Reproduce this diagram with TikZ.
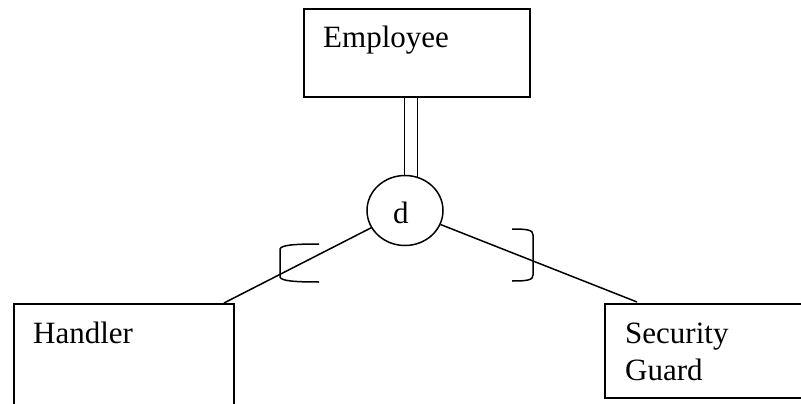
\documentclass[tikz,border=0pt]{standalone}
\usepackage{fontspec}
\setmainfont{Liberation Serif}
\usetikzlibrary{shapes.geometric}
\begin{document}
\begin{tikzpicture}[x=1pt,y=-1pt,
  entity/.style={draw, rectangle, line width=2pt, inner sep=0pt, anchor=north west},
  link/.style={line width=1.5pt},
  lbl/.style={inner sep=0pt, anchor=base west, font=\fontsize{31}{36}\selectfont}]
  \useasboundingbox (0,0) rectangle (801,404);
  \clip (0,0) rectangle (801,404);

  % entity boxes
  \node[entity, minimum width=226pt, minimum height=88pt] (emp) at (303,8) {};
  \node[entity, minimum width=220pt, minimum height=130pt] (hand) at (13,303) {};
  \node[entity, minimum width=240pt, minimum height=94pt] (sec) at (604,303) {};

  % entity names
  \node[lbl] (empname) at (323,48) {Employee};
  \node[lbl] (handname) at (33,343) {Handler};
  \node[lbl] (secname) at (625,343) {Security};
  \node[lbl] (guardname) at (625,380) {Guard};

  % disjointness circle
  \node[draw, ellipse, link, minimum width=76pt, minimum height=70pt, inner sep=0pt] (disj) at (405,210.5) {};
  \node[lbl] (dname) at (393,223) {d};

  % total participation: double line from the superclass
  \draw[link] (disj.91.5) -- (disj.91.5 |- emp.south);
  \draw[link] (disj.70) -- (disj.70 |- emp.south);

  % lines to the subclasses
  \coordinate (hl) at (224,303);
  \coordinate (sr) at (637,302);
  \draw[link] (disj) -- (hl);
  \draw[link] (disj) -- (sr);

  % subset brackets
  \draw[link] (319,244) .. controls (295,244) and (281,245) .. (280,249)
    -- (280,277) .. controls (281,281) and (295,282) .. (319,282);
  \draw[link] (512,229) .. controls (528,229) and (533,230) .. (533,235)
    -- (533,275) .. controls (533,280) and (528,281) .. (512,281);
\end{tikzpicture}
\end{document}
